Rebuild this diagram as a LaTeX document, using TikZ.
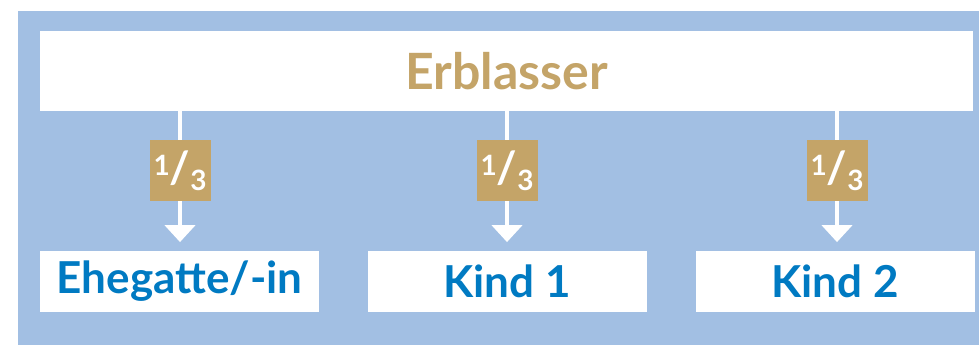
\documentclass[tikz,border=0pt]{standalone}
\usepackage{fontspec}
\setmainfont{Lato}
\usepackage{tikz}
\usetikzlibrary{arrows.meta,positioning}
\definecolor{BgBlue}{RGB}{162,191,227}
\definecolor{ShareGold}{RGB}{196,164,104}
\definecolor{HeirBlue}{RGB}{0,122,194}
\newcommand\onethird{%
  \raisebox{4pt}{\fontsize{14}{14}\selectfont 1}%
  {\fontsize{22}{22}\selectfont /}%
  \raisebox{-3.5pt}{\fontsize{14}{14}\selectfont 3}}

\begin{document}
\begin{tikzpicture}[x=0.5pt,y=-0.5pt]
		\tikzstyle{every node}=[font=\bfseries]
		\tikzstyle{whitebox}=[fill=white,inner sep=0pt,minimum height=30.5pt]
		\tikzstyle{heirbox}=[whitebox,minimum width=139.5pt,text=HeirBlue,font=\bfseries\fontsize{22}{22}\selectfont]
		\tikzstyle{sharebox}=[fill=ShareGold,text=white,inner sep=0pt,minimum size=30.5pt]
		\tikzstyle{sharearrow}=[draw=white,line width=2.25pt,-{Triangle[width=15pt,length=8.5pt]},shorten >=4pt]

\useasboundingbox (0,0) rectangle (979,345);
\fill[BgBlue] (18,11) rectangle (979,345);

\node[whitebox,minimum width=466.5pt,minimum height=40pt,text=ShareGold,
      font=\bfseries\fontsize{25}{25}\selectfont] at (506.5,71) (erblasser) {Erblasser};

\node[heirbox] at (179.5,281) (heir1) {Ehegatte/-in};
\node[heirbox] at (507,281) (heir2) {Kind 1};
\node[heirbox] at (835,281) (heir3) {Kind 2};

\foreach \i/\x in {1/180,2/507,3/837}
{
  \coordinate (top\i) at (erblasser.south -| \x,0);
  \coordinate (bot\i) at (heir\i.north -| \x,0);
  \draw[sharearrow] (top\i) -- (bot\i);
  \node[sharebox] at (\x,170.5) (share\i) {\onethird};
}

\end{tikzpicture}
\end{document}
